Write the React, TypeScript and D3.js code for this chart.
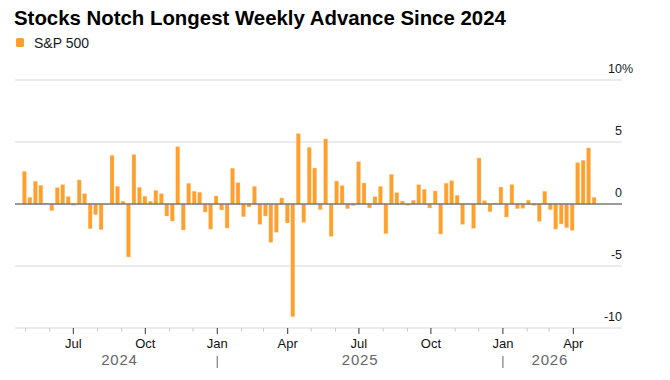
import React from "react";
import * as d3 from "d3";

const TITLE = "Stocks Notch Longest Weekly Advance Since 2024";
const SERIES_NAME = "S&P 500";
// week-ending Friday of the first bar
const FIRST_WEEK_END = new Date(2024, 3, 26);
// weekly % change of the S&P 500
const weeklyChange: number[] = [
  2.63, 0.54, 1.83, 1.5, 0.05, -0.54, 1.32, 1.56, 0.59, -0.1,
  1.94, 0.83, -1.99, -0.86, -2.07, -0.05, 3.92, 1.42, 0.22, -4.27,
  3.98, 1.34, 0.62, 0.22, 1.1, 0.83, -0.97, -1.37, 4.62, -2.1,
  1.67, 1.02, 0.94, -0.65, -2.02, 0.65, -0.48, -1.94, 2.88, 1.72,
  -1.02, -0.24, 1.42, -1.64, -0.97, -3.09, -2.28, 0.48, -1.53, -9.09,
  5.67, -1.48, 4.57, 2.9, -0.46, 5.24, -2.61, 1.85, 1.48, -0.38,
  -0.13, 3.41, 1.69, -0.32, 0.59, 1.42, -2.39, 2.39, 0.91, 0.24,
  -0.11, 0.3, 1.56, 1.18, -0.32, 1.05, -2.42, 1.67, 1.88, 0.7,
  -1.64, -0.03, -1.96, 3.71, 0.27, -0.62, 0.08, 1.37, -1.05, 1.56,
  -0.38, -0.35, 0.3, -0.11, -1.4, 1.02, -0.46, -2.02, -1.61, -1.91,
  -2.12, 3.33, 3.52, 4.52, 0.54,
];
const yTicks = [-10, -5, 0, 5, 10];
const yTickLabels = ["-10", "-5", "0", "5", "10"];
const years = [2024, 2025, 2026];

const ORANGE = "#ffa02c";
const FONT = "'Liberation Sans', Arial, Helvetica, sans-serif";

export default function App() {
  const W = 670;
  const H = 380;
  const weeks = weeklyChange.map((v, i) => ({
    date: d3.timeDay.offset(FIRST_WEEK_END, 7 * i),
    value: v,
  }));
  const x = d3
    .scaleTime()
    .domain([new Date(2024, 3, 17, 12), new Date(2026, 5, 2, 5)])
    .range([15, 622]);
  const y = d3.scaleLinear().domain([-10, 10]).range([328, 80]);
  const gridLeft = 15;
  const gridRight = 622;
  const barW = 3.9;
  const firstDate = weeks[0].date;
  const lastDate = weeks[weeks.length - 1].date;
  const lastEnd = d3.timeDay.offset(lastDate, 7);
  const months = d3.timeMonth.range(
    d3.timeMonth.ceil(firstDate),
    d3.timeDay.offset(lastDate, 1)
  );
  const fmtMonth = d3.timeFormat("%b");
  const axisY = y(-10);

  return (
    <svg
      width={W}
      height={H}
      style={{ position: "absolute", left: 0, top: 0, background: "#fff" }}
      fontFamily={FONT}
    >
      <rect width={W} height={H} fill="#fff" />
      <text x={14} y={25} fontSize={20.4} fontWeight="bold" fill="#000">
        {TITLE}
      </text>
      <rect x={16} y={38} width={8} height={9} rx={1.5} fill={ORANGE} />
      <text x={34} y={48} fontSize={14} fill="#1a1a1a">
        {SERIES_NAME}
      </text>

      {/* gridlines */}
      {yTicks
        .filter((t) => t !== 0)
        .map((t) => (
          <line
            key={"g" + t}
            x1={gridLeft}
            x2={gridRight}
            y1={y(t)}
            y2={y(t)}
            stroke="#e4e4e4"
            strokeWidth={1.5}
          />
        ))}

      {/* bars */}
      {weeks.map((d, i) => {
        const cx = x(d3.timeHour.offset(d.date, 84));
        const y0 = y(0);
        const y1 = y(d.value);
        return (
          <rect
            key={"b" + i}
            x={cx - barW / 2}
            y={Math.min(y0, y1)}
            width={barW}
            height={Math.max(0.6, Math.abs(y1 - y0))}
            fill={ORANGE}
            stroke="rgba(255,200,140,0.6)"
            strokeWidth={0.5}
          />
        );
      })}

      {/* zero line */}
      <line
        x1={gridLeft}
        x2={gridRight}
        y1={y(0)}
        y2={y(0)}
        stroke="#787878"
        strokeWidth={1.6}
      />

      {/* y labels */}
      {yTicks.map((t, i) => (
        <text
          key={"yl" + t}
          x={622}
          y={y(t) - 7}
          fontSize={12.5}
          textAnchor="end"
          fill="#1a1a1a"
        >
          {yTickLabels[i]}
        </text>
      ))}
      <text x={622} y={y(10) - 7} fontSize={12.5} fill="#1a1a1a">
        %
      </text>

      {/* x axis ticks */}
      {months.map((m, i) => {
        const major = m.getMonth() % 3 === 0;
        const px = x(m);
        return (
          <line
            key={"t" + i}
            x1={px}
            x2={px}
            y1={axisY}
            y2={axisY + (major ? 6 : 3.5)}
            stroke={major ? "#333" : "#c8c8c8"}
            strokeWidth={1}
          />
        );
      })}
      {months
        .filter((m) => m.getMonth() % 3 === 0)
        .map((m, i) => (
          <text
            key={"ml" + i}
            x={x(m)}
            y={348}
            fontSize={13}
            textAnchor="middle"
            fill="#111"
          >
            {fmtMonth(m)}
          </text>
        ))}

      {/* year labels */}
      {years.map((yr) => {
        const s = new Date(Math.max(+new Date(yr, 0, 1), +firstDate));
        const e = new Date(Math.min(+new Date(yr + 1, 0, 1), +lastEnd));
        const cx = (x(s) + x(e)) / 2;
        return (
          <text
            key={"yr" + yr}
            x={cx}
            y={365}
            fontSize={15}
            letterSpacing={0.8}
            textAnchor="middle"
            fill="#666"
          >
            {yr}
          </text>
        );
      })}
      {years.slice(1).map((yr) => {
        const px = x(new Date(yr, 0, 1));
        return (
          <line
            key={"ys" + yr}
            x1={px}
            x2={px}
            y1={356}
            y2={368}
            stroke="#888"
            strokeWidth={1.3}
          />
        );
      })}
    </svg>
  );
}
